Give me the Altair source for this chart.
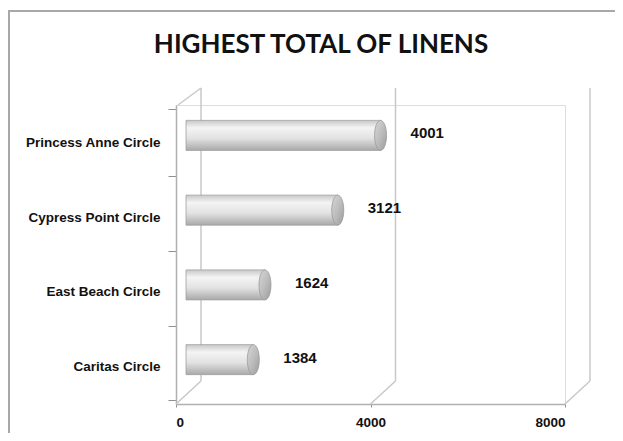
import altair as alt
import pandas as pd

categories = ["Princess Anne Circle", "Cypress Point Circle", "East Beach Circle", "Caritas Circle"]
values = [4001, 3121, 1624, 1384]
x_ticks = [0, 4000, 8000]
title_text = "HIGHEST TOTAL OF LINENS"

W, H = 389, 299
DX3, DY3 = 25, -23
FONT = "Lato"
LFONT = "Liberation Sans"

df = pd.DataFrame({"site": categories, "total": values})
ticks = pd.DataFrame({"t": x_ticks})
origin = pd.DataFrame({"t": [x_ticks[0]], "title": [title_text]})

xscale = alt.Scale(domain=[0, 8000], nice=False)

grad = alt.Gradient(
    gradient="linear", x1=0, y1=0, x2=0, y2=1,
    stops=[
        alt.GradientStop(color="#c8c8c8", offset=0),
        alt.GradientStop(color="#f4f4f4", offset=0.25),
        alt.GradientStop(color="#e2e2e2", offset=0.6),
        alt.GradientStop(color="#a9a9a9", offset=1),
    ],
)
cap_grad = alt.Gradient(
    gradient="linear", x1=0, y1=0, x2=1, y2=1,
    stops=[
        alt.GradientStop(color="#d6d6d6", offset=0),
        alt.GradientStop(color="#bdbdbd", offset=0.5),
        alt.GradientStop(color="#9c9c9c", offset=1),
    ],
)

frame = alt.Chart(origin).mark_rect(fill="transparent", stroke="#a8a8a8", strokeWidth=2).encode(
    x=alt.value(-167), x2=alt.value(W + 120), y=alt.value(-94), y2=alt.value(H + 120)
)

title = alt.Chart(origin).mark_text(
    font=FONT, fontSize=26, fontWeight="bold", color="#111", align="center", baseline="middle"
).encode(x=alt.value(145), y=alt.value(-60), text="title:N")

back_grid = alt.Chart(ticks).mark_rule(color="#c8c8c8", strokeWidth=1.5, xOffset=DX3).encode(
    x=alt.X("t:Q", scale=xscale), y=alt.value(H + DY3), y2=alt.value(-17)
)

floor_diag = alt.Chart(ticks).mark_rule(color="#c8c8c8", strokeWidth=1.5, x2Offset=DX3).encode(
    x=alt.X("t:Q", scale=xscale), x2="t:Q", y=alt.value(H), y2=alt.value(H + DY3)
)

top_diag = alt.Chart(origin).mark_rule(color="#c8c8c8", strokeWidth=1.5, xOffset=2, x2Offset=DX3).encode(
    x=alt.X("t:Q", scale=xscale), x2="t:Q", y=alt.value(0), y2=alt.value(-17)
)

yenc = alt.Y(
    "site:N", sort=categories, title=None,
    axis=alt.Axis(
        tickBand="extent", tickSize=8, labelPadding=8, domainColor="#b0b0b0", tickColor="#909090",
        domainWidth=1.5, labelFont=LFONT, labelFontSize=13.5, labelFontWeight="bold", labelColor="#111",
    ),
)

bars = alt.Chart(df).mark_bar(
    size=30, fill=grad, stroke="#a0a0a0", strokeWidth=0.8,
    xOffset=10, x2Offset=10, yOffset=-7,
).encode(
    x=alt.X(
        "total:Q", scale=xscale, title=None,
        axis=alt.Axis(
            values=x_ticks, format="d", grid=False, tickSize=3, tickColor="#909090", domainColor="#b0b0b0",
            domainWidth=1.5, labelFont=LFONT, labelFontSize=13.5, labelFontWeight="bold",
            labelColor="#111", labelPadding=8,
        ),
    ),
    x2=alt.datum(0),
    y=yenc,
)

caps = alt.Chart(df).mark_point(
    shape="M0,-1A0.4,1 0 1,1 0,1A0.4,1 0 1,1 0,-1Z", size=900, filled=True, fill=cap_grad,
    stroke="#9a9a9a", strokeWidth=0.8, opacity=1, xOffset=10, yOffset=-7,
).encode(
    x=alt.X("total:Q", scale=xscale), y=alt.Y("site:N", sort=categories)
)

labels = alt.Chart(df).mark_text(
    align="left", baseline="middle", dx=40, dy=-9, font=LFONT, fontSize=15, fontWeight="bold", color="#111"
).encode(
    x=alt.X("total:Q", scale=xscale), y=alt.Y("site:N", sort=categories), text="total:Q"
)

chart = alt.layer(frame, title, back_grid, floor_diag, top_diag, bars, caps, labels).properties(
    width=W, height=H,
    autosize=alt.AutoSizeParams(type="none"),
    padding={"left": 168, "top": 97, "right": 50, "bottom": 29},
).configure_view(stroke=None).configure(background="white")

chart.save("out.html", embed_options={"renderer": "svg", "actions": False})
